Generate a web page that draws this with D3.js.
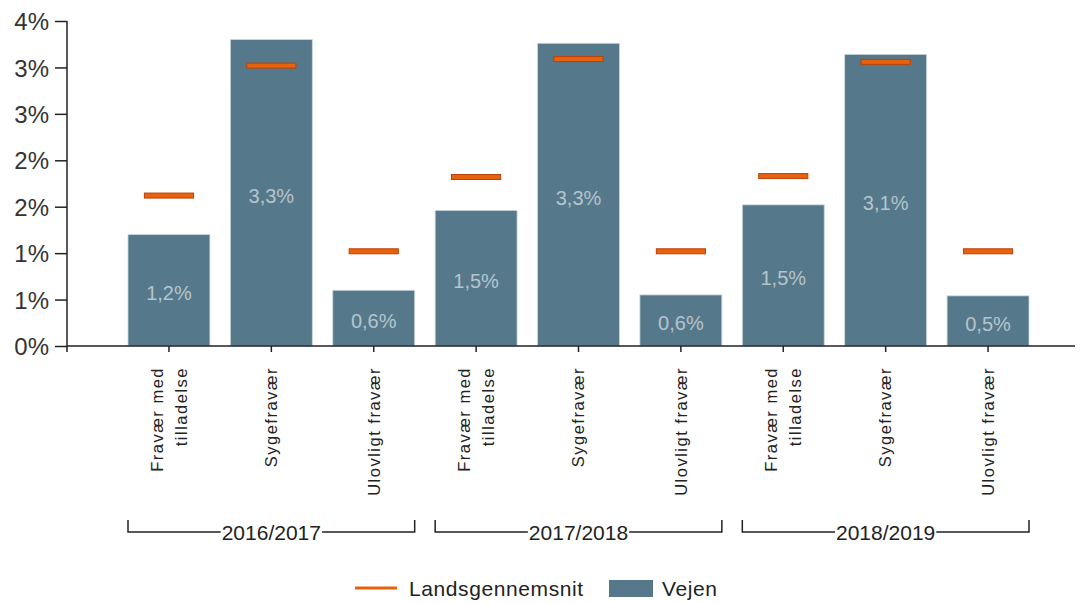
<!DOCTYPE html>
<html>
<head>
<meta charset="utf-8">
<script src="https://cdn.jsdelivr.net/npm/d3@7"></script>
<style>
  body { margin: 0; background: #fff; }
  svg text { font-family: "Liberation Sans", Arial, sans-serif; }
</style>
</head>
<body>
<div id="chart"></div>
<script>
// Chart size and plot edges
const w = 1080;
const h = 603;
const left = 67;
const right = 1075;
const baseY = 346;
const topY = 21;

// Data
const years = ["2016/2017", "2017/2018", "2018/2019"];
const categories = ["Fravær med tilladelse", "Sygefravær", "Ulovligt fravær"];
const vejen = [1.2, 3.3, 0.6, 1.46, 3.26, 0.55, 1.52, 3.14, 0.54];
const landsgennemsnit = [1.62, 3.02, 1.02, 1.82, 3.09, 1.02, 1.83, 3.06, 1.02];
const yTicks = [0, 0.5, 1, 1.5, 2, 2.5, 3, 3.5];

const barColor = "#55798b";
const avgColor = "#e8620e";

// one row per bar
const rows = [];
years.forEach((year, i) => {
  categories.forEach((cat, j) => {
    const k = i * categories.length + j;
    rows.push({ key: year + "|" + cat, year: year, cat: cat, value: vejen[k], avg: landsgennemsnit[k] });
  });
});

const svg = d3.select("#chart").append("svg")
  .attr("width", w)
  .attr("height", h);

const xScale = d3.scaleBand()
  .domain(rows.map(d => d.key))
  .range([128, 1029])
  .paddingInner(0.2)
  .paddingOuter(0);

const yScale = d3.scaleLinear()
  .domain([0, 3.5])
  .range([baseY, topY]);

const fmt = v => d3.format(".1f")(v).replace(".", ",") + "%";

// bars
svg.selectAll("rect.bar")
  .data(rows)
  .enter()
  .append("rect")
  .attr("class", "bar")
  .attr("x", d => xScale(d.key))
  .attr("y", d => yScale(d.value))
  .attr("width", xScale.bandwidth())
  .attr("height", d => baseY - yScale(d.value))
  .attr("fill", barColor)
  .attr("stroke", "#c9d6de")
  .attr("stroke-width", 0.8);

// value labels inside bars
svg.selectAll("text.val")
  .data(rows)
  .enter()
  .append("text")
  .attr("class", "val")
  .attr("x", d => xScale(d.key) + xScale.bandwidth() / 2)
  .attr("y", d => (yScale(d.value) + baseY) / 2)
  .attr("dy", "0.5em")
  .attr("text-anchor", "middle")
  .attr("font-size", 20)
  .attr("fill", "#b6c4cc")
  .text(d => fmt(d.value));

// national average markers
const markW = xScale.bandwidth() * 0.6;
svg.selectAll("rect.avg")
  .data(rows)
  .enter()
  .append("rect")
  .attr("class", "avg")
  .attr("x", d => xScale(d.key) + (xScale.bandwidth() - markW) / 2)
  .attr("y", d => yScale(d.avg) - 2.5)
  .attr("width", markW)
  .attr("height", 5)
  .attr("fill", avgColor)
  .attr("stroke", "#b8420a")
  .attr("stroke-width", 1);

// y axis
const yAxis = d3.axisLeft(yScale)
  .tickValues(yTicks)
  .tickSize(12)
  .tickSizeOuter(0)
  .tickFormat(d => Math.round(d) + "%");

const gy = svg.append("g")
  .attr("transform", `translate(${left},0)`)
  .call(yAxis);
gy.select(".domain").remove();
gy.selectAll("line").attr("stroke", "#222").attr("stroke-width", 1.5);
gy.selectAll("text")
  .attr("font-size", 24)
  .attr("fill", "#333")
  .attr("x", -18)
  .attr("dy", "0.36em")
  .style("font-family", "Liberation Sans, Arial, sans-serif");
svg.append("line")
  .attr("x1", left).attr("x2", left)
  .attr("y1", topY).attr("y2", baseY + 6)
  .attr("stroke", "#222").attr("stroke-width", 1.5);

// x axis
const xAxis = d3.axisBottom(xScale)
  .tickSize(6)
  .tickSizeOuter(0)
  .tickFormat("");

const gx = svg.append("g")
  .attr("transform", `translate(0,${baseY})`)
  .call(xAxis);
gx.select(".domain").remove();
gx.selectAll("line").attr("stroke", "#222").attr("stroke-width", 1.5);
svg.append("line")
  .attr("x1", left).attr("x2", right)
  .attr("y1", baseY).attr("y2", baseY)
  .attr("stroke", "#222").attr("stroke-width", 1.5);

// rotated category labels
function splitLabel(cat) {
  return cat === "Fravær med tilladelse" ? ["Fravær med", "tilladelse"] : [cat];
}
const lineGap = 24;
rows.forEach(d => {
  const lines = splitLabel(d.cat);
  const cx = xScale(d.key) + xScale.bandwidth() / 2;
  const t = svg.append("text")
    .attr("transform", `translate(${cx},367) rotate(-90)`)
    .attr("text-anchor", "end")
    .attr("font-size", 16.5)
    .attr("letter-spacing", 1.5)
    .attr("fill", "#222");
  lines.forEach((ln, i) => {
    const off = (i - (lines.length - 1) / 2) * lineGap;
    t.append("tspan")
      .attr("x", 0)
      .attr("y", off)
      .attr("dy", "0.35em")
      .text(ln);
  });
});

// year brackets
const bracketY = 532;
years.forEach(year => {
  const keys = rows.filter(d => d.year === year).map(d => d.key);
  const x0 = xScale(keys[0]);
  const x1 = xScale(keys[keys.length - 1]) + xScale.bandwidth();
  const g = svg.append("g");
  g.append("path")
    .attr("d", `M${x0},${bracketY - 12}V${bracketY}H${x1}V${bracketY - 12}`)
    .attr("fill", "none")
    .attr("stroke", "#222")
    .attr("stroke-width", 1.5);
  const bg = g.append("rect").attr("fill", "#fff");
  const lbl = g.append("text")
    .attr("x", (x0 + x1) / 2)
    .attr("y", bracketY)
    .attr("dy", "0.36em")
    .attr("text-anchor", "middle")
    .attr("font-size", 21)
    .attr("fill", "#222")
    .text(year);
  const bb = lbl.node().getBBox();
  bg.attr("x", bb.x - 1)
    .attr("y", bracketY - 3)
    .attr("width", bb.width + 2)
    .attr("height", 6);
});

// legend
const legY = 588;
svg.append("line")
  .attr("x1", 355).attr("x2", 397)
  .attr("y1", legY).attr("y2", legY)
  .attr("stroke", avgColor).attr("stroke-width", 3);
svg.append("text")
  .attr("x", 409).attr("y", legY)
  .attr("dy", "0.36em")
  .attr("font-size", 21)
  .attr("letter-spacing", 0.6)
  .attr("fill", "#222")
  .text("Landsgennemsnit");
svg.append("rect")
  .attr("x", 609).attr("y", 580)
  .attr("width", 44).attr("height", 17)
  .attr("fill", barColor);
svg.append("text")
  .attr("x", 662).attr("y", legY)
  .attr("dy", "0.36em")
  .attr("font-size", 21)
  .attr("letter-spacing", 0.6)
  .attr("fill", "#222")
  .text("Vejen");
</script>
</body>
</html>
